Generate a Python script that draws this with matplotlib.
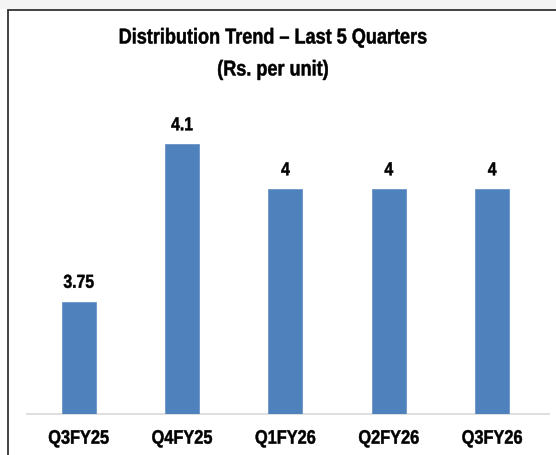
import matplotlib
matplotlib.use("Agg")
import matplotlib.pyplot as plt
from matplotlib.patches import Rectangle
from matplotlib.patheffects import AbstractPathEffect
from matplotlib.transforms import Affine2D

categories = ["Q3FY25", "Q4FY25", "Q1FY26", "Q2FY26", "Q3FY26"]
values = [3.75, 4.1, 4, 4, 4]
value_labels = ["3.75", "4.1", "4", "4", "4"]


class Squeeze(AbstractPathEffect):
    """Horizontally condense a text path around its own centre (narrow bold font look)."""

    def __init__(self, sx=0.84, stroke=0.35):
        super().__init__()
        self.sx = sx
        self.stroke = stroke

    def draw_path(self, renderer, gc, tpath, affine, rgbFace=None):
        ext = tpath.get_extents(affine)
        x0 = (ext.x0 + ext.x1) / 2
        t = affine + Affine2D().translate(-x0, 0).scale(self.sx, 1).translate(x0, 0)
        gc0 = renderer.new_gc()
        gc0.copy_properties(gc)
        if rgbFace is not None and self.stroke > 0:
            gc0.set_foreground(rgbFace)
            gc0.set_linewidth(self.stroke)
        renderer.draw_path(gc0, tpath, t, rgbFace)
        gc0.restore()


SQ = [Squeeze(0.84)]
W, H = 556, 455
fig = plt.figure(figsize=(W / 100, H / 100), dpi=100)
fig.patch.set_facecolor("white")

FONT = ["Liberation Sans", "DejaVu Sans"]

# top gray strip and frame
fig.patches.append(Rectangle((0, 1 - 9 / H), 1, 9 / H, transform=fig.transFigure,
                             facecolor="#f4f4f4", edgecolor="none", zorder=-2))
fig.patches.append(Rectangle((7.5 / W, -0.1), 1.2, 1 - 9.5 / H + 0.1, transform=fig.transFigure,
                             facecolor="white", edgecolor="#333333", linewidth=1.3, zorder=-1))

ax = fig.add_axes([27 / W, 1 - 414 / H, (549 - 27) / W, (414 - 99) / H])
ax.set_zorder(1)
ax.set_facecolor("none")
x = range(len(categories))
ax.bar(x, values, width=0.33, color="#4f81bd", edgecolor="#6a94c8", linewidth=0.6, zorder=3)
ax.set_xlim(-0.5, len(categories) - 0.45)
ax.set_ylim(3.5, 4.2)
for xi, v, lab in zip(x, values, value_labels):
    ax.annotate(lab, (xi, v), xytext=(0, 7), textcoords="offset points",
                ha="center", va="bottom", fontsize=13.5, fontweight="bold",
                family=FONT, color="black", path_effects=SQ)
ax.set_xticks(list(x))
ax.set_xticklabels(categories, fontsize=14, fontweight="bold", family=FONT)
for t in ax.get_xticklabels():
    t.set_path_effects(SQ)
ax.tick_params(axis="x", length=0, pad=12)
ax.set_yticks([])
for s in ["top", "right", "left"]:
    ax.spines[s].set_visible(False)
ax.spines["bottom"].set_color("#d9d9d9")
ax.spines["bottom"].set_linewidth(1.2)

fig.text(273 / W, 1 - 38 / H, "Distribution Trend \u2013 Last 5 Quarters", ha="center", va="center",
         fontsize=15.5, fontweight="bold", family=FONT, path_effects=SQ)
fig.text(273 / W, 1 - 70 / H, "(Rs. per unit)", ha="center", va="center",
         fontsize=15.5, fontweight="bold", family=FONT, path_effects=SQ)

fig.savefig("out.png", dpi=100)
